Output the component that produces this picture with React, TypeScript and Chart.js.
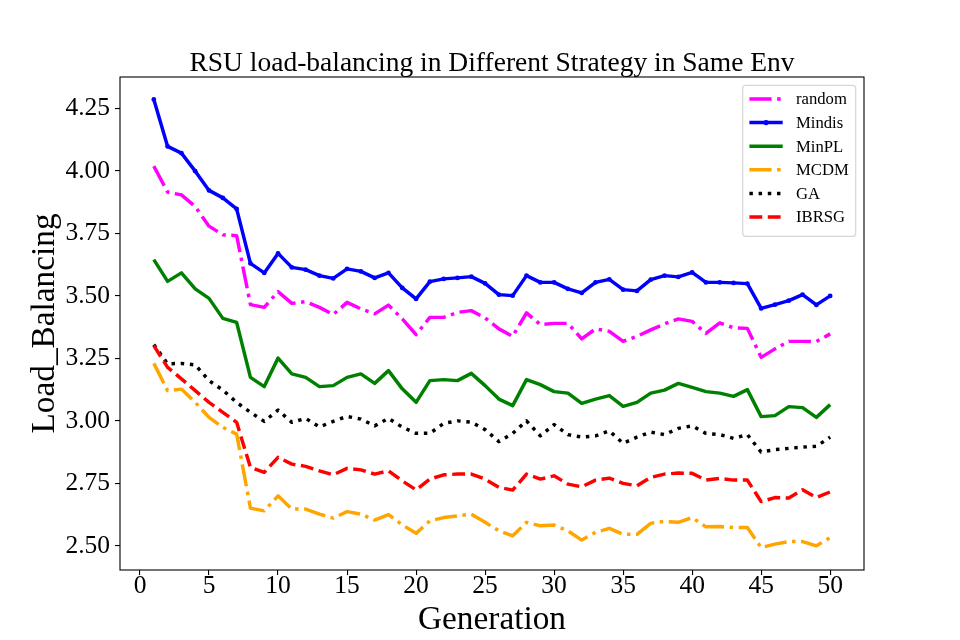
import React, { useEffect, useRef } from "react";
import { Chart, registerables } from "chart.js";

Chart.register(...registerables);

const generations = [
  1, 2, 3, 4, 5, 6, 7, 8, 9, 10, 11, 12, 13, 14, 15, 16, 17, 18, 19, 20, 21, 22, 23, 24, 25,
  26, 27, 28, 29, 30, 31, 32, 33, 34, 35, 36, 37, 38, 39, 40, 41, 42, 43, 44, 45, 46, 47, 48, 49, 50,
];

const randomVals = [
  4.019, 3.915, 3.904, 3.857, 3.779, 3.744, 3.741, 3.465, 3.454, 3.517,
  3.47, 3.477, 3.454, 3.425, 3.474, 3.448, 3.428, 3.463, 3.408, 3.345,
  3.414, 3.414, 3.434, 3.441, 3.412, 3.368, 3.338, 3.432, 3.385, 3.39,
  3.39, 3.328, 3.368, 3.358, 3.318, 3.338, 3.364, 3.388, 3.408, 3.398,
  3.35, 3.392, 3.372, 3.37, 3.254, 3.288, 3.318, 3.318, 3.317, 3.348,
];
const mindisVals = [
  4.286, 4.098, 4.071, 3.999, 3.922, 3.892, 3.848, 3.63, 3.592, 3.67,
  3.614, 3.605, 3.581, 3.57, 3.608, 3.598, 3.572, 3.592, 3.532, 3.488,
  3.557, 3.568, 3.572, 3.577, 3.55, 3.505, 3.501, 3.581, 3.554, 3.554,
  3.528, 3.512, 3.554, 3.566, 3.525, 3.52, 3.565, 3.581, 3.576, 3.594,
  3.554, 3.554, 3.552, 3.549, 3.45, 3.465, 3.481, 3.505, 3.464, 3.5,
];
const minplVals = [
  3.645, 3.558, 3.592, 3.528, 3.49, 3.41, 3.394, 3.174, 3.137, 3.251,
  3.188, 3.174, 3.137, 3.141, 3.174, 3.188, 3.15, 3.201, 3.128, 3.074,
  3.161, 3.165, 3.161, 3.19, 3.141, 3.087, 3.061, 3.165, 3.145, 3.117,
  3.111, 3.07, 3.087, 3.101, 3.058, 3.074, 3.111, 3.123, 3.15, 3.134,
  3.117, 3.111, 3.098, 3.125, 3.017, 3.021, 3.057, 3.053, 3.014, 3.065,
];
const mcdmVals = [
  3.23, 3.121, 3.127, 3.074, 3.014, 2.974, 2.947, 2.651, 2.64, 2.7,
  2.647, 2.647, 2.627, 2.611, 2.637, 2.627, 2.603, 2.625, 2.584, 2.55,
  2.6, 2.613, 2.62, 2.627, 2.594, 2.56, 2.54, 2.594, 2.58, 2.583,
  2.56, 2.523, 2.554, 2.57, 2.546, 2.546, 2.59, 2.598, 2.594, 2.613,
  2.576, 2.577, 2.573, 2.573, 2.493, 2.507, 2.517, 2.517, 2.5, 2.533,
];
const gaVals = [
  3.305, 3.228, 3.23, 3.224, 3.161, 3.123, 3.074, 3.034, 2.998, 3.043,
  2.994, 3.01, 2.976, 2.998, 3.018, 3.007, 2.98, 3.01, 2.975, 2.95,
  2.95, 2.99, 3.0, 2.995, 2.965, 2.917, 2.95, 3.0, 2.94, 2.985,
  2.945, 2.935, 2.94, 2.96, 2.91, 2.935, 2.955, 2.945, 2.97, 2.98,
  2.95, 2.945, 2.93, 2.945, 2.875, 2.885, 2.89, 2.895, 2.898, 2.935,
];
const ibrsgVals = [
  3.301, 3.214, 3.168, 3.121, 3.074, 3.034, 2.994, 2.814, 2.794, 2.854,
  2.827, 2.818, 2.8, 2.784, 2.81, 2.804, 2.787, 2.8, 2.76, 2.724,
  2.767, 2.784, 2.787, 2.787, 2.767, 2.734, 2.723, 2.787, 2.767, 2.78,
  2.747, 2.736, 2.763, 2.771, 2.75, 2.74, 2.774, 2.787, 2.791, 2.79,
  2.763, 2.77, 2.763, 2.763, 2.677, 2.693, 2.691, 2.724, 2.693, 2.716,
];

const seriesNames = ["random", "Mindis", "MinPL", "MCDM", "GA", "IBRSG"];
const seriesValues = [randomVals, mindisVals, minplVals, mcdmVals, gaVals, ibrsgVals];

const xTickValues = [0, 5, 10, 15, 20, 25, 30, 35, 40, 45, 50];
const yTickValues = [2.5, 2.75, 3.0, 3.25, 3.5, 3.75, 4.0, 4.25];

const titleText = "RSU load-balancing in Different Strategy in Same Env";
const xLabelText = "Generation";
const yLabelText = "Load_Balancing";

const LW = 3.47;
const styles = [
  { color: "#ff00ff", dash: [6.4 * LW, 1.6 * LW, 1.0 * LW, 1.6 * LW], marker: false },
  { color: "#0000ff", dash: [], marker: true },
  { color: "#008000", dash: [], marker: false },
  { color: "#ffa500", dash: [6.4 * LW, 1.6 * LW, 1.0 * LW, 1.6 * LW], marker: false },
  { color: "#000000", dash: [1.0 * LW, 1.65 * LW], marker: false },
  { color: "#ff0000", dash: [3.7 * LW, 1.6 * LW], marker: false },
];

const FONT = '"Liberation Serif", "Times New Roman", Times, serif';

function roundRectPath(ctx: CanvasRenderingContext2D, x: number, y: number, w: number, h: number, r: number) {
  ctx.beginPath();
  ctx.moveTo(x + r, y);
  ctx.lineTo(x + w - r, y);
  ctx.arcTo(x + w, y, x + w, y + r, r);
  ctx.lineTo(x + w, y + h - r);
  ctx.arcTo(x + w, y + h, x + w - r, y + h, r);
  ctx.lineTo(x + r, y + h);
  ctx.arcTo(x, y + h, x, y + h - r, r);
  ctx.lineTo(x, y + r);
  ctx.arcTo(x, y, x + r, y, r);
  ctx.closePath();
}

const decorPlugin = {
  id: "decor",
  afterDatasetsDraw(chart: any) {
    const { ctx, chartArea: a } = chart;
    ctx.save();
    ctx.strokeStyle = "#000";
    ctx.lineWidth = 1.1;
    ctx.setLineDash([]);
    ctx.strokeRect(a.left, a.top, a.right - a.left, a.bottom - a.top);
    ctx.restore();
  },
  afterDraw(chart: any) {
    const { ctx, chartArea: a } = chart;
    const cx = (a.left + a.right) / 2;
    const cy = (a.top + a.bottom) / 2;
    ctx.save();
    ctx.fillStyle = "#000";
    // title
    ctx.font = `27.5px ${FONT}`;
    ctx.textAlign = "center";
    ctx.textBaseline = "alphabetic";
    ctx.fillText(titleText, cx, a.top - 6.5);
    // x label
    ctx.font = `33.3px ${FONT}`;
    ctx.fillText(xLabelText, cx, 629);
    // y label
    ctx.save();
    ctx.translate(54, cy);
    ctx.rotate(-Math.PI / 2);
    ctx.fillText(yLabelText, 0, 0);
    ctx.restore();

    // legend
    const fs = 16.67;
    const boxRight = a.right - 8.3;
    const boxTop = a.top + 8.3;
    const boxW = 113;
    const rowH = 23.6;
    const boxH = 151;
    const boxLeft = boxRight - boxW;
    ctx.globalAlpha = 0.8;
    roundRectPath(ctx, boxLeft, boxTop, boxW, boxH, 3);
    ctx.fillStyle = "#ffffff";
    ctx.fill();
    ctx.strokeStyle = "#cccccc";
    ctx.lineWidth = 1.2;
    ctx.stroke();
    ctx.globalAlpha = 1;
    ctx.font = `${fs}px ${FONT}`;
    ctx.textAlign = "left";
    ctx.textBaseline = "middle";
    seriesNames.forEach((name, i) => {
      const st = styles[i];
      const y = boxTop + 13.7 + i * rowH;
      const x0 = boxLeft + 6.7;
      const x1 = x0 + 33.3;
      ctx.strokeStyle = st.color;
      ctx.lineWidth = LW;
      ctx.lineCap = "butt";
      ctx.setLineDash(st.dash);
      ctx.lineDashOffset = 0;
      ctx.beginPath();
      ctx.moveTo(x0, y);
      ctx.lineTo(x1, y);
      ctx.stroke();
      ctx.setLineDash([]);
      if (st.marker) {
        ctx.fillStyle = st.color;
        ctx.beginPath();
        ctx.arc((x0 + x1) / 2, y, 2.6, 0, Math.PI * 2);
        ctx.fill();
      }
      ctx.fillStyle = "#000";
      ctx.fillText(name, x1 + 13.3, y + 1);
    });
    ctx.restore();
  },
};

export default function App() {
  const canvasRef = useRef<HTMLCanvasElement | null>(null);

  useEffect(() => {
    const canvas = canvasRef.current;
    if (!canvas) return;
    const all = seriesValues.flat();
    const dMin = Math.min(...all);
    const dMax = Math.max(...all);
    const yPad = (dMax - dMin) * 0.05;
    const xFirst = generations[0];
    const xLast = generations[generations.length - 1];
    const xPad = (xLast - xFirst) * 0.05;

    const datasets = seriesNames.map((name, i) => ({
      label: name,
      data: generations.map((g, j) => ({ x: g, y: seriesValues[i][j] })),
      borderColor: styles[i].color,
      backgroundColor: styles[i].color,
      borderWidth: LW,
      borderDash: styles[i].dash,
      borderCapStyle: "butt" as const,
      borderJoinStyle: "round" as const,
      tension: 0,
      fill: false,
      pointRadius: styles[i].marker ? 2.4 : 0,
      pointBorderWidth: 0,
      pointHoverRadius: 0,
      order: seriesNames.length - 1 - i,
    }));

    const tickFont = { family: FONT, size: 25.5 };

    const chart = new Chart(canvas, {
      type: "line",
      data: { datasets },
      plugins: [decorPlugin],
      options: {
        animation: false,
        responsive: false,
        events: [],
        layout: { padding: { top: 77, right: 96, bottom: 0, left: 0 } },
        plugins: {
          legend: { display: false },
          title: { display: false },
          tooltip: { enabled: false },
        },
        scales: {
          x: {
            type: "linear",
            min: xFirst - xPad,
            max: xLast + xPad,
            afterFit: (s: any) => {
              s.height = 70;
            },
            afterBuildTicks: (s: any) => {
              s.ticks = xTickValues.map((v) => ({ value: v }));
            },
            grid: {
              display: true,
              drawOnChartArea: false,
              drawTicks: true,
              tickLength: 5,
              color: "#000",
              lineWidth: 1.1,
            },
            border: { display: false },
            ticks: {
              font: tickFont,
              color: "#000",
              padding: -4,
              maxRotation: 0,
              autoSkip: false,
              callback: (v: any) => String(v),
            },
          },
          y: {
            type: "linear",
            min: dMin - yPad,
            max: dMax + yPad,
            afterFit: (s: any) => {
              s.width = 120;
            },
            afterBuildTicks: (s: any) => {
              s.ticks = yTickValues.map((v) => ({ value: v }));
            },
            grid: {
              display: true,
              drawOnChartArea: false,
              drawTicks: true,
              tickLength: 5,
              color: "#000",
              lineWidth: 1.1,
            },
            border: { display: false },
            ticks: {
              font: tickFont,
              color: "#000",
              padding: 5,
              autoSkip: false,
              callback: (v: any) => Number(v).toFixed(2),
            },
          },
        },
      },
    });
    return () => chart.destroy();
  }, []);

  return (
    <div
      style={{
        position: "fixed",
        left: 0,
        top: 0,
        width: 960,
        height: 640,
        background: "#ffffff",
      }}
    >
      <canvas ref={canvasRef} width={960} height={640} style={{ width: 960, height: 640, display: "block" }} />
    </div>
  );
}
